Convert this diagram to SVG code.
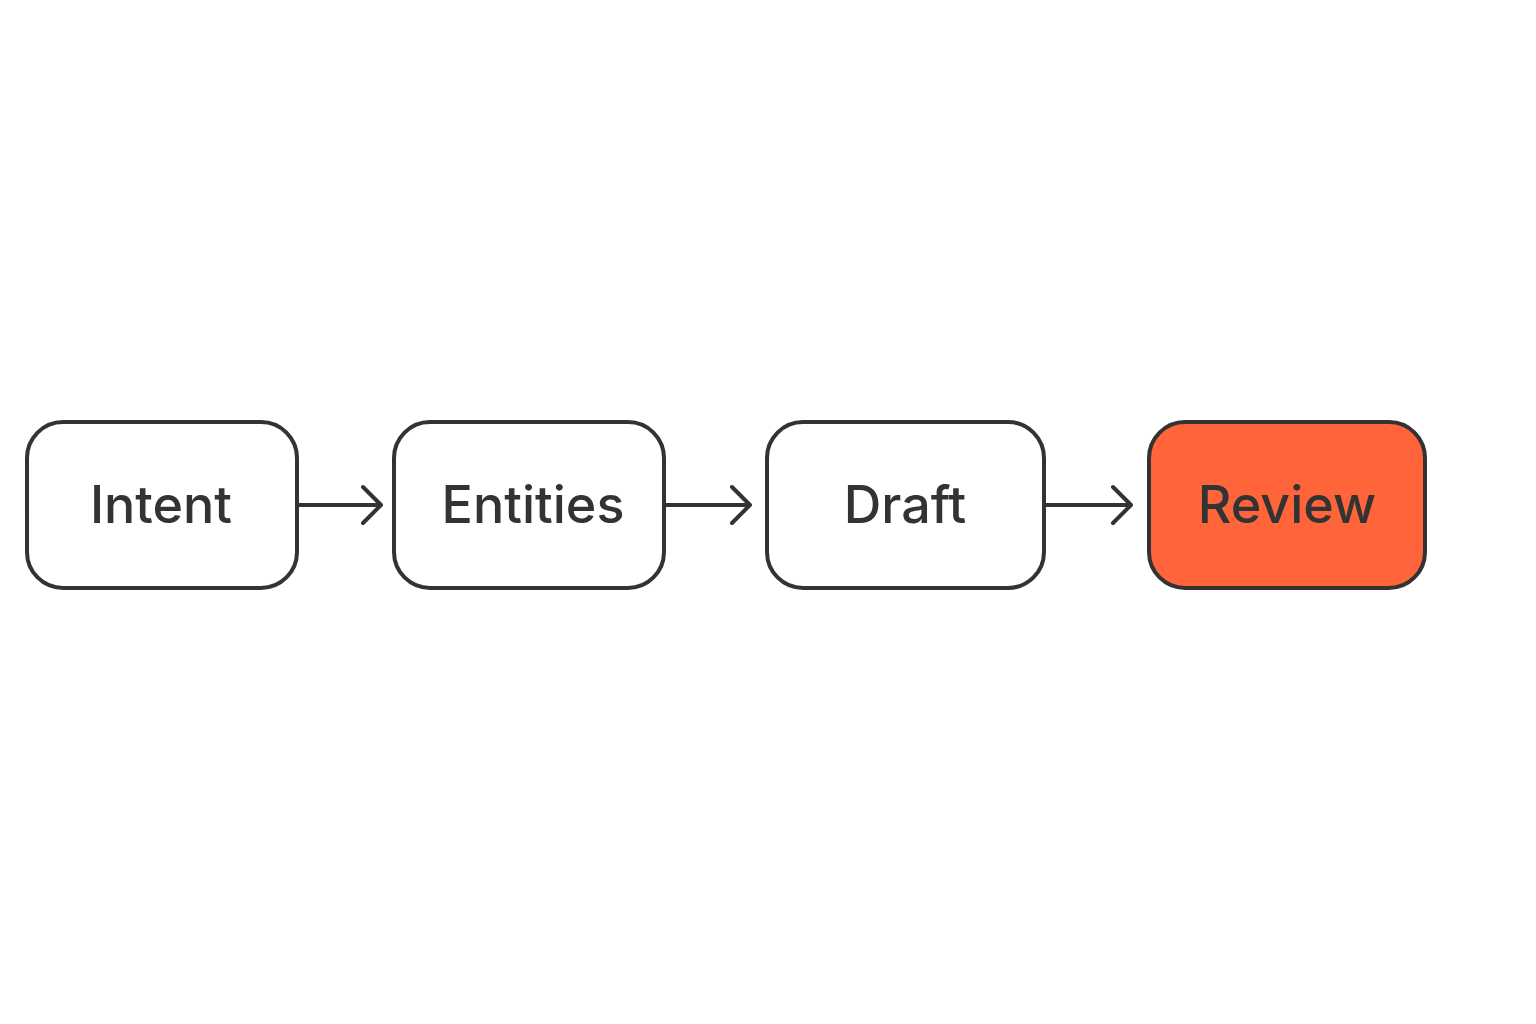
<svg xmlns="http://www.w3.org/2000/svg" width="1536" height="1024" viewBox="0 0 1536 1024">
<style>
.box{fill:#fff;stroke:#333;stroke-width:4}
.hl{fill:#FF643A}
.lbl{font-family:Inter,"Noto Sans",sans-serif;font-size:52px;font-weight:500;fill:#333;text-anchor:middle}
.con{stroke:#333;stroke-width:4;fill:none;stroke-linecap:round;stroke-linejoin:round}
</style>
<rect width="1536" height="1024" fill="#fff"/>
<g id="connectors">
<path class="con" d="M297 505H381M363 487L381 505L363 523"/>
<path class="con" d="M664 505H750M732 487L750 505L732 523"/>
<path class="con" d="M1044 505H1131M1113 487L1131 505L1113 523"/>
</g>
<g id="intent"><rect class="box" x="27" y="422" width="270" height="166" rx="36"/><text class="lbl" x="161" y="523">Intent</text></g>
<g id="entities"><rect class="box" x="394" y="422" width="270" height="166" rx="36"/><text class="lbl" x="533" y="523">Entities</text></g>
<g id="draft"><rect class="box" x="767" y="422" width="277" height="166" rx="36"/><text class="lbl" x="905" y="523">Draft</text></g>
<g id="review"><rect class="box hl" x="1149" y="422" width="276" height="166" rx="36"/><text class="lbl" x="1287" y="523">Review</text></g>
</svg>
